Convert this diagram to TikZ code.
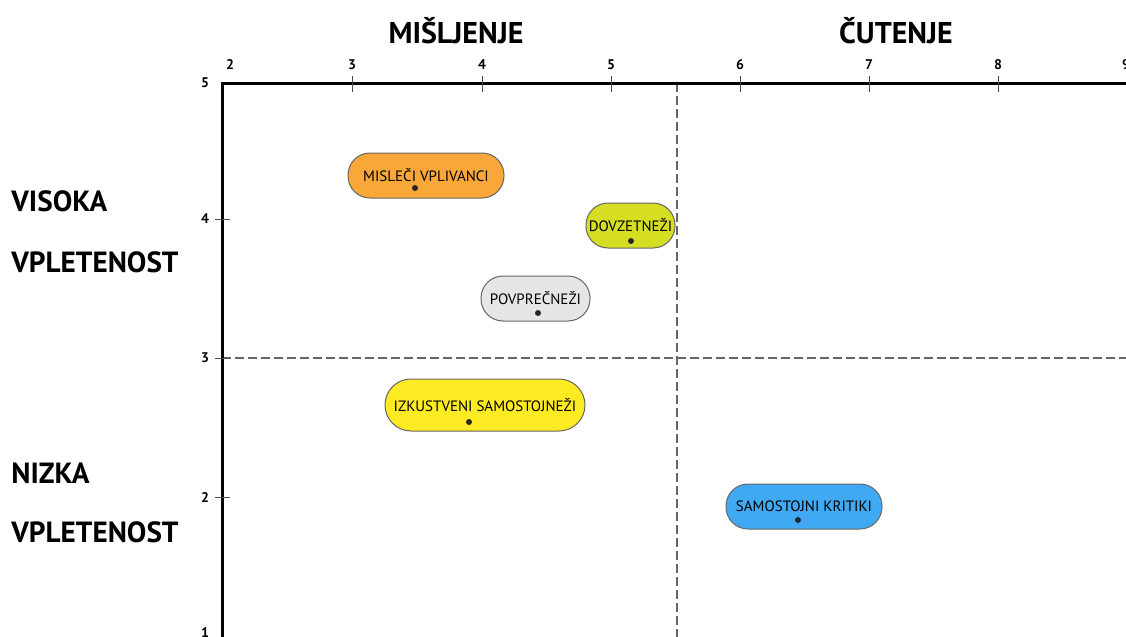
\documentclass[tikz,border=0pt]{standalone}
\usepackage{fontspec}
\setmainfont{PT Sans}
\begin{document}
\begin{tikzpicture}[x=0.5pt,y=-0.5pt,
  axisline/.style={line width=1.5pt,black},
  tickmark/.style={line width=0.5pt,black!70},
  ticklbl/.style={font=\fontsize{7}{8}\selectfont\bfseries,inner sep=0pt},
  guide/.style={dashed,dash pattern=on 4.5pt off 2pt,line width=1pt,black!60},
  heading/.style={font=\fontsize{15}{17}\selectfont\bfseries,inner sep=0pt},
  sidelbl/.style={font=\fontsize{14.6}{16}\selectfont\bfseries,inner sep=0pt,anchor=west},
  pill/.style={draw=black!60,line width=0.5pt,rounded corners=11pt,inner sep=0pt,
    font=\fontsize{7.5}{9}\selectfont},
  pt/.style={circle,fill=black!85,inner sep=0pt,minimum size=3pt}]
\useasboundingbox (0,0) rectangle (1126,637);
\fill[white] (0,0) rectangle (1126,637);

% plot frame corner and axis ends
\coordinate (o) at (222,83);
\coordinate (xe) at (1126,83);
\coordinate (ye) at (222,637);

% dashed quadrant dividers
\coordinate (vt) at (677,83);
\coordinate (vb) at (677,637);
\coordinate (hl) at (222,358);
\coordinate (hr) at (1126,358);
\draw[guide] (vt) -- (vb);
\draw[guide] (hl) -- (hr);

% axes
\draw[axisline] (xe) -- (o) -- (ye);

% x ticks and labels
\foreach \v/\px in {3/352,4/482,5/611,6/740,7/869,8/998}{
  \draw[tickmark] (\px,76) -- (\px,92);
  \node[ticklbl] (xl\v) at (\px,65) {\v};
}
\node[ticklbl] (xl2) at (230,65) {2};
\node[ticklbl] (xl9) at (1126,65) {9};

% y ticks and labels
\foreach \v/\py in {4/219,3/358,2/497}{
  \draw[tickmark] (215,\py) -- (230,\py);
  \node[ticklbl] (yl\v) at (205,\py) {\v};
}
\node[ticklbl] (yl5) at (205,83) {5};
\node[ticklbl] (yl1) at (205,633) {1};

% headings
\node[heading] (misl) at (456,31) {MIŠLJENJE};
\node[heading] (cut) at (896,31) {ČUTENJE};
\node[sidelbl] (vis) at (11,201) {VISOKA};
\node[sidelbl] (vp1) at (11,262) {VPLETENOST};
\node[sidelbl] (niz) at (11,473) {NIZKA};
\node[sidelbl] (vp2) at (11,532) {VPLETENOST};

% segments
\node[pill,fill={rgb,255:red,248;green,167;blue,56},minimum width=78pt,minimum height=22.5pt] (mv) at (426,175.5) {MISLEČI VPLIVANCI};
\node[pt] (mvd) at (415,188) {};
\node[pill,fill={rgb,255:red,214;green,222;blue,35},minimum width=44.5pt,minimum height=22.5pt] (dz) at (630.5,225.5) {DOVZETNEŽI};
\node[pt] (dzd) at (631,241) {};
\node[pill,fill={rgb,255:red,230;green,230;blue,230},minimum width=54.5pt,minimum height=22.5pt] (pv) at (535.5,298.5) {POVPREČNEŽI};
\node[pt] (pvd) at (538,313) {};
\node[pill,fill={rgb,255:red,252;green,234;blue,35},minimum width=100pt,minimum height=26pt,rounded corners=13pt] (is) at (485,405) {IZKUSTVENI SAMOSTOJNEŽI};
\node[pt] (isd) at (469,422) {};
\node[pill,fill={rgb,255:red,64;green,169;blue,244},minimum width=78pt,minimum height=22.5pt] (sk) at (804,506.5) {SAMOSTOJNI KRITIKI};
\node[pt] (skd) at (798,520) {};
\end{tikzpicture}
\end{document}
